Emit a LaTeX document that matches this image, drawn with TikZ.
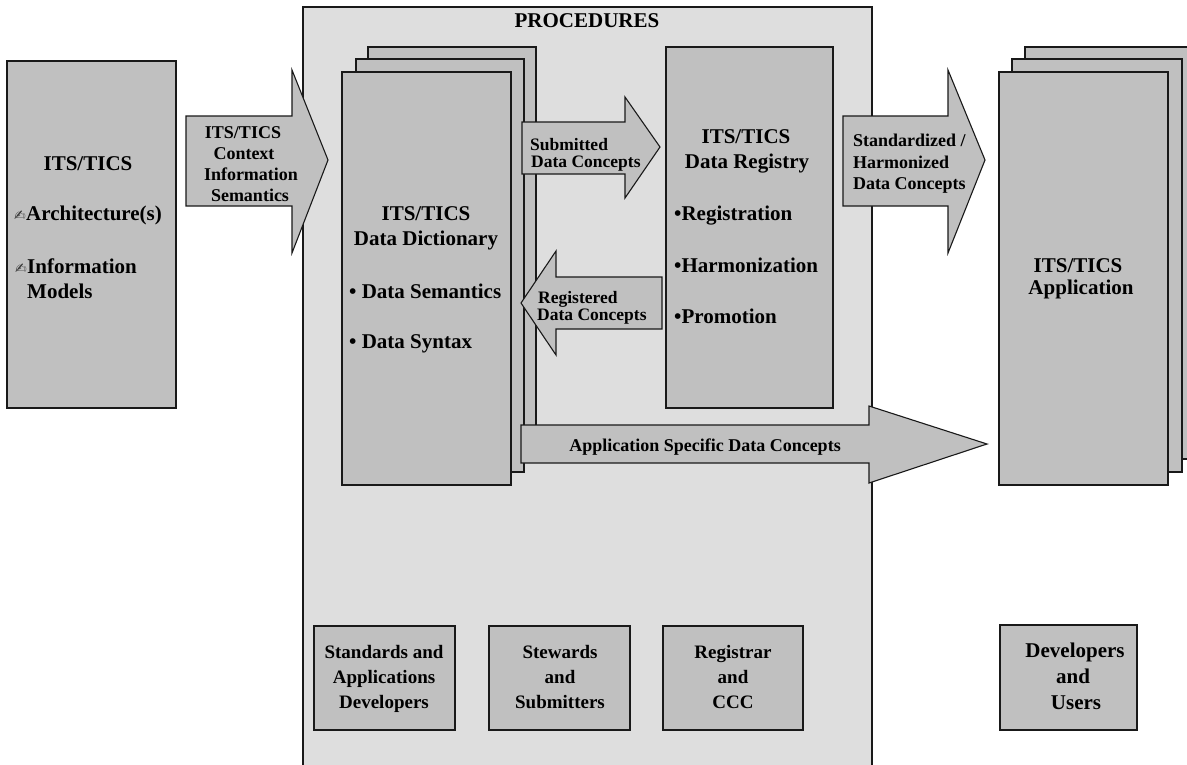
\documentclass[tikz,border=0pt]{standalone}
\usepackage{fontspec}
\setmainfont{Liberation Serif}
\newfontfamily\symfont{DejaVu Sans}
\definecolor{boxgray}{RGB}{192,192,192}
\definecolor{procbg}{RGB}{222,222,222}
\definecolor{edge}{RGB}{25,25,25}
\tikzset{
  box/.style={draw=edge, line width=1.2pt, fill=boxgray},
  procbox/.style={draw=edge, line width=1.2pt, fill=procbg},
  arrowshape/.style={draw=edge, line width=1.1pt, fill=boxgray, line join=miter},
  t21/.style={font=\bfseries\fontsize{21}{25}\selectfont, inner sep=0pt, anchor=base},
  t19/.style={font=\bfseries\fontsize{19}{23}\selectfont, inner sep=0pt, anchor=base},
  t18/.style={font=\bfseries\fontsize{18}{21}\selectfont, inner sep=0pt, anchor=base},
  t17/.style={font=\bfseries\fontsize{17.5}{20}\selectfont, inner sep=0pt, anchor=base},
  pen/.style={font=\symfont\fontsize{14}{14}\selectfont, inner sep=0pt, anchor=base east, text=black!80},
}
\begin{document}
\begin{tikzpicture}[x=1pt,y=-1pt]
\clip (0,0) rectangle (1187,764);
\fill[white] (0,0) rectangle (1187,764);

% procedures background
\draw[procbox] (303,7) rectangle (872,790);
\node[t21] (proc) at (587,27) {PROCEDURES};

% left box
\draw[box] (7,61) rectangle (176,408);
\node[t21] (lt1) at (88,170) {ITS/TICS};
\node[t21, anchor=base west] (lt2) at (26,220) {Architecture(s)};
\node[pen] (pen1) at (lt2.base west) {✍};
\node[t21, anchor=base west] (lt3) at (27,273) {Information};
\node[pen] (pen2) at (lt3.base west) {✍};
\node[t21, anchor=base west] (lt4) at (27,298) {Models};

% context arrow
\draw[arrowshape] (186,116) -- (292,116) -- (292,70) -- (328,160) -- (292,253) -- (292,206) -- (186,206) -- cycle;
\node[t18] (c1) at (243,138) {ITS/TICS};
\node[t18] (c2) at (244,159) {Context};
\node[t18] (c3) at (251,180) {Information};
\node[t18] (c4) at (250,201) {Semantics};

% data dictionary stack
\draw[box] (368,47) rectangle (536,460);
\draw[box] (356,59) rectangle (524,472);
\draw[box] (342,72) rectangle (511,485);
\node[t21] (d1) at (426,220) {ITS/TICS};
\node[t21] (d2) at (426,245) {Data Dictionary};
\node[t21, anchor=base west] (d3) at (349,298) {• Data Semantics};
\node[t21, anchor=base west] (d4) at (349,348) {• Data Syntax};

% submitted arrow
\draw[arrowshape] (522,122) -- (625,122) -- (625,97) -- (660,147) -- (625,198) -- (625,174) -- (522,174) -- cycle;
\node[t17, anchor=base west] (s1) at (530,150) {Submitted};
\node[t17, anchor=base west] (s2) at (531,167) {Data Concepts};

% registered arrow
\draw[arrowshape] (662,277) -- (556,277) -- (556,251) -- (521,303) -- (556,355) -- (556,329) -- (662,329) -- cycle;
\node[t17, anchor=base west] (r1) at (538,303) {Registered};
\node[t17, anchor=base west] (r2) at (537,320) {Data Concepts};

% data registry box
\draw[box] (666,47) rectangle (833,408);
\node[t21] (g1) at (746,143) {ITS/TICS};
\node[t21] (g2) at (747,168) {Data Registry};
\node[t21, anchor=base west] (g3) at (674,220) {•Registration};
\node[t21, anchor=base west] (g4) at (674,272) {•Harmonization};
\node[t21, anchor=base west] (g5) at (674,323) {•Promotion};

% standardized arrow
\draw[arrowshape] (843,116) -- (948,116) -- (948,70) -- (985,160) -- (948,253) -- (948,206) -- (843,206) -- cycle;
\node[t18, anchor=base west] (h1) at (853,146) {Standardized /};
\node[t18, anchor=base west] (h2) at (853,168) {Harmonized};
\node[t18, anchor=base west] (h3) at (853,189) {Data Concepts};

% application specific arrow
\draw[arrowshape] (521,425) -- (869,425) -- (869,406) -- (987,444) -- (869,483) -- (869,463) -- (521,463) -- cycle;
\node[t18] (a1) at (705,451) {Application Specific Data Concepts};

% application stack
\draw[box] (1025,47) rectangle (1195,459);
\draw[box] (1012,59) rectangle (1182,472);
\draw[box] (999,72) rectangle (1168,485);
\node[t21] (p1) at (1078,272) {ITS/TICS};
\node[t21] (p2) at (1081,294) {Application};

% bottom boxes
\draw[box] (314,626) rectangle (455,730);
\node[t19] (b11) at (384,658) {Standards and};
\node[t19] (b12) at (384,683) {Applications};
\node[t19] (b13) at (384,708) {Developers};

\draw[box] (489,626) rectangle (630,730);
\node[t19] (b21) at (560,658) {Stewards};
\node[t19] (b22) at (560,683) {and};
\node[t19] (b23) at (560,708) {Submitters};

\draw[box] (663,626) rectangle (803,730);
\node[t19] (b31) at (733,658) {Registrar};
\node[t19] (b32) at (733,683) {and};
\node[t19] (b33) at (733,708) {CCC};

\draw[box] (1000,625) rectangle (1137,730);
\node[t21] (b41) at (1075,657) {Developers};
\node[t21] (b42) at (1073,683) {and};
\node[t21] (b43) at (1076,709) {Users};
\end{tikzpicture}
\end{document}
